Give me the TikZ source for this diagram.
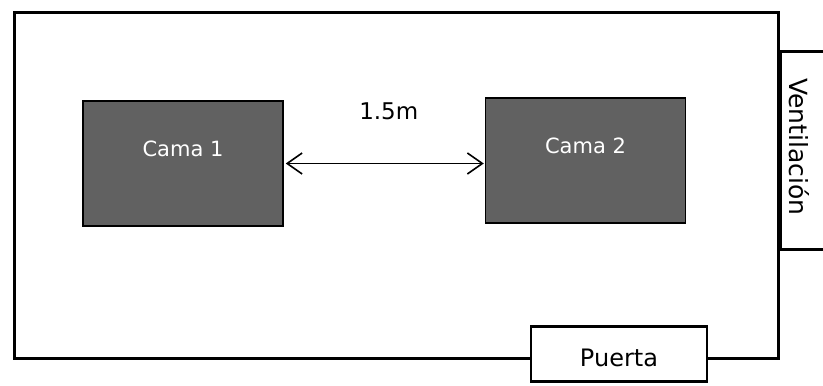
\documentclass[tikz,border=0pt]{standalone}
\usepackage{fontspec}
\setmainfont{DejaVu Sans}
\usetikzlibrary{arrows.meta,positioning}
\tikzset{
plan/.style={>={Straight Barb[length=15pt,width=21pt,line width=1.6pt]},x=1pt,y=1pt,node distance=1cm},
wall/.style={rectangle,draw,line width=3.2pt,inner sep=0pt},
bed/.style={rectangle,draw=black,line width=1.5pt,fill=black!62,text=white,inner sep=0pt,
minimum width=200pt,minimum height=125pt,text depth=30pt,font=\fontsize{21}{24}\selectfont},
door/.style={rectangle,draw,fill=white,line width=2.8pt,inner sep=0pt,
minimum width=176pt,minimum height=55pt,text height=25pt,font=\fontsize{24}{26}\selectfont},
label text/.style={font=\fontsize{23}{26}\selectfont,inner sep=0pt},
}
\begin{document}
\begin{tikzpicture}[plan]
                    \useasboundingbox (0,0) rectangle (823,386);
                    \node[wall,minimum width=764pt,minimum height=346pt] (room) at (396.5,200.5) {};
                    \node[bed] (cama1) at (183,222.5) {Cama 1};
                    \node[bed,right=201pt of cama1,yshift=3pt] (cama2) {Cama 2};
                    \node[door] (puerta) at (619,32) {Puerta};
                    \node[label text,above=43pt of cama1.east,xshift=105pt] (medida) {1.5m};

                    \coordinate (v1) at (823,334);
                    \coordinate (v2) at (823,136);
                    \node[label text,font=\fontsize{25}{28}\selectfont,rotate=-90] (vent) at (799,239) {Ventilación};

                    \fill[white] (room.east |- v1) rectangle (room.east |- v2);
                    \path[<->,line width=1.6pt,shorten <=2pt,shorten >=1pt] (cama1.east) edge (cama1.east -| cama2.west);
                    \draw[line width=3pt] (v1) -- (v1 -| room.east) -- (v2 -| room.east) -- (v2);
\end{tikzpicture}
\end{document}
